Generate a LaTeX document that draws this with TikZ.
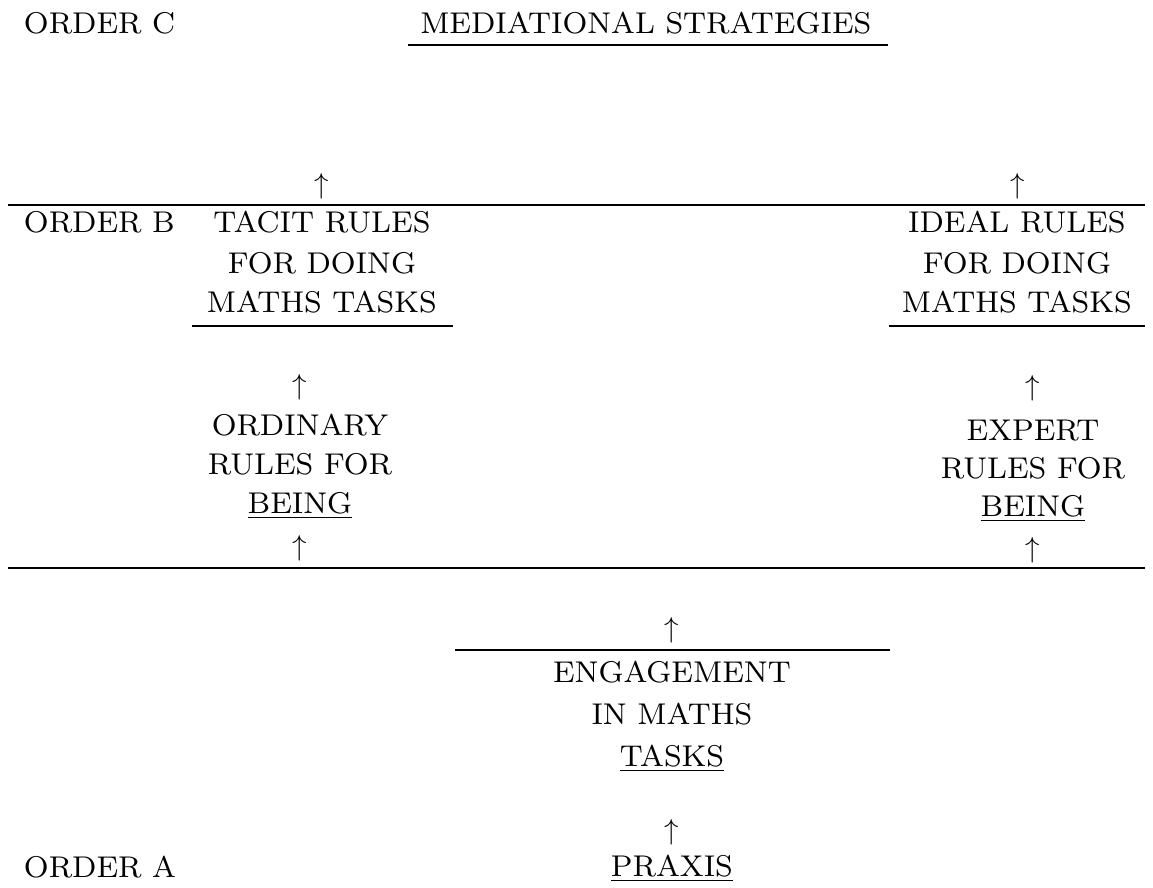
\documentclass[tikz,border=0pt]{standalone}
\font\dgfont=cmr8 at 15pt
\newcommand\ulin[1]{\setbox0\hbox{#1}\rlap{\vrule width\wd0 height -1.8pt depth 2.7pt}\box0}
\begin{document}
\begin{tikzpicture}[x=0.5pt,y=-0.5pt,
  txt/.style={inner sep=0pt,outer sep=0pt,anchor=base,font=\dgfont},
  lft/.style={txt,anchor=base west},
  up/.style={inner sep=0pt,outer sep=0pt,font=\fontsize{15.3}{22}\selectfont},
  rule/.style={line width=1pt}]
\useasboundingbox (0,0) rectangle (1153,888);
% order C
\node[lft] (orderC) at (24,34) {ORDER C};
\node[txt] (med) at (646,34) {MEDIATIONAL STRATEGIES};
\coordinate (medL) at (408,45); \coordinate (medR) at (888,45);
\draw[rule] (medL) -- (medR);
% arrows into order C
\node[up] (a1) at (322,186) {$\uparrow$};
\node[up] (a2) at (1018,186) {$\uparrow$};
% line between C and B
\coordinate (l1L) at (8,205); \coordinate (l1R) at (1145,205);
\draw[rule] (l1L) -- (l1R);
% order B
\node[lft] (orderB) at (24,233) {ORDER B};
\node[txt] (t1) at (322,233) {TACIT RULES};
\node[txt] (t2) at (322,273) {FOR DOING};
\node[txt] (t3) at (322,313) {MATHS TASKS};
\coordinate (tuL) at (192,326); \coordinate (tuR) at (453,326);
\draw[rule] (tuL) -- (tuR);
\node[txt] (i1) at (1017,233) {IDEAL RULES};
\node[txt] (i2) at (1017,273) {FOR DOING};
\node[txt] (i3) at (1017,313) {MATHS TASKS};
\coordinate (iuL) at (889,326); \coordinate (iuR) at (1145,326);
\draw[rule] (iuL) -- (iuR);
\node[up] (a3) at (300,387) {$\uparrow$};
\node[up] (a4) at (1033,388) {$\uparrow$};
\node[txt] (o1) at (300,435) {ORDINARY};
\node[txt] (o2) at (300,474) {RULES FOR};
\node[txt] (o3) at (300,513) {\ulin{BEING}};
\node[txt] (e1) at (1033,440) {EXPERT};
\node[txt] (e2) at (1033,478) {RULES FOR};
\node[txt] (e3) at (1033,516) {\ulin{BEING}};
\node[up] (a5) at (300,548) {$\uparrow$};
\node[up] (a6) at (1033,550) {$\uparrow$};
\coordinate (l2L) at (8,568); \coordinate (l2R) at (1145,568);
\draw[rule] (l2L) -- (l2R);
% order A
\node[up] (a7) at (672,630) {$\uparrow$};
\coordinate (l3L) at (455,650); \coordinate (l3R) at (890,650);
\draw[rule] (l3L) -- (l3R);
\node[txt] (g1) at (672,682) {ENGAGEMENT};
\node[txt] (g2) at (672,724) {IN MATHS};
\node[txt] (g3) at (672,766) {\ulin{TASKS}};
\node[up] (a8) at (672,832) {$\uparrow$};
\node[lft] (orderA) at (24,877) {ORDER A};
\node[txt] (praxis) at (672,876) {\ulin{PRAXIS}};
\end{tikzpicture}
\end{document}
